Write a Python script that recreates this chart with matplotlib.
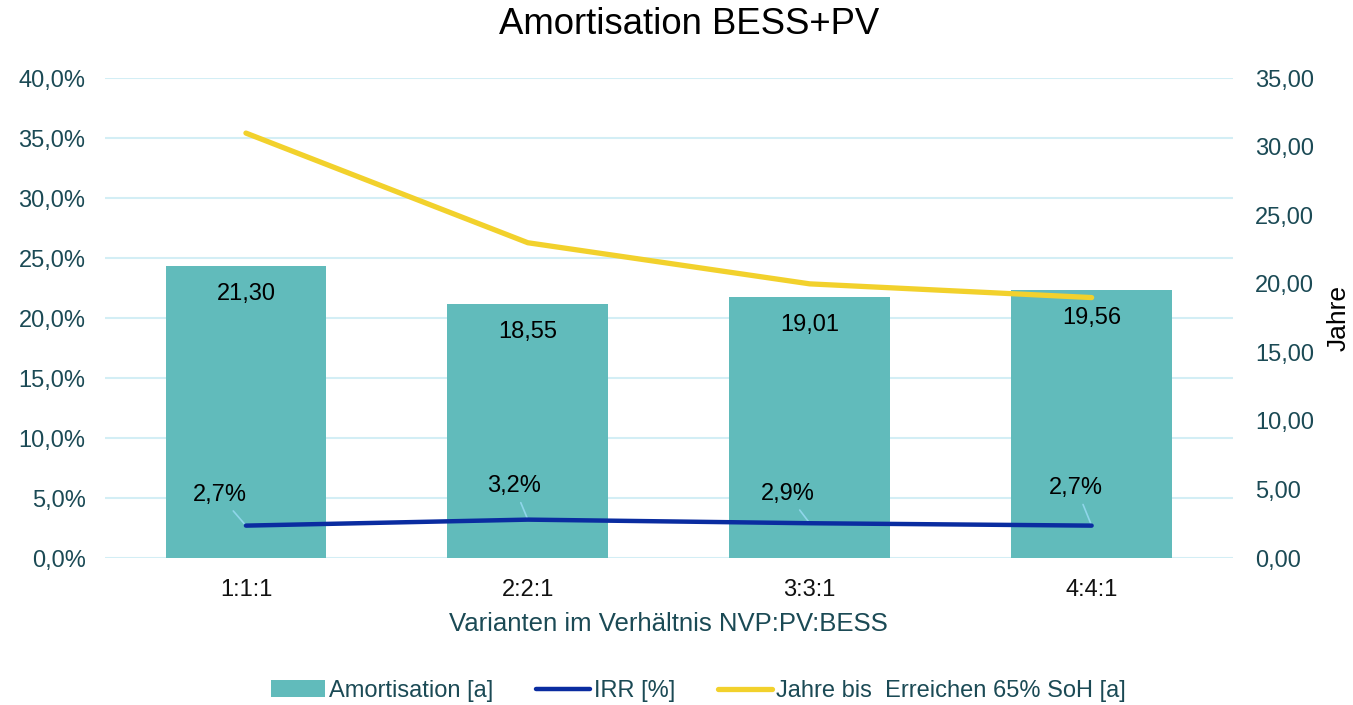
import matplotlib.pyplot as plt
from matplotlib.ticker import FuncFormatter, MultipleLocator

plt.rcParams['font.family'] = ['Liberation Sans', 'DejaVu Sans']

# Data
varianten = ["1:1:1", "2:2:1", "3:3:1", "4:4:1"]
amortisation = [21.30, 18.55, 19.01, 19.56]    # years
irr = [0.027, 0.032, 0.029, 0.027]             # fraction
jahre_soh = [31.0, 23.0, 20.0, 19.0]           # years until 65% SoH

teal = "#61BBBB"
blue = "#0A2CA0"
yellow = "#F2D12C"
grid_col = "#D3EEF5"
txt_col = "#1B4A55"

fig = plt.figure(figsize=(13.53, 7.05), dpi=100)
ax = fig.add_subplot(111)
fig.subplots_adjust(left=0.0776, right=0.911, top=0.889, bottom=0.2085)

x = list(range(len(varianten)))

# base axis: percent scale with grid
ax.set_ylim(0, 0.40)
ax.yaxis.set_major_locator(MultipleLocator(0.05))
ax.yaxis.set_major_formatter(FuncFormatter(lambda v, p: f"{v*100:.1f}%".replace(".", ",")))
ax.grid(axis="y", color=grid_col, linewidth=1.5)
ax.set_axisbelow(True)
ax.set_xlim(-0.5, len(varianten) - 0.5)
ax.set_xticks(x)
ax.set_xticklabels(varianten)
ax.tick_params(axis="x", length=0, pad=15, labelsize=17, labelcolor="#111111")
ax.tick_params(axis="y", length=0, pad=14, labelsize=17, labelcolor=txt_col)
ax.set_xlabel("Varianten im Verhältnis NVP:PV:BESS", fontsize=18.5, color=txt_col, labelpad=8)

# years axis: bars and SoH line
ax_y = ax.twinx()
ax_y.set_ylim(0, 35)
ax_y.yaxis.set_major_locator(MultipleLocator(5))
ax_y.yaxis.set_major_formatter(FuncFormatter(lambda v, p: f"{v:.2f}".replace(".", ",")))
ax_y.tick_params(axis="y", length=0, pad=16, labelsize=17, labelcolor=txt_col)
ax_y.set_ylabel("Jahre", fontsize=19, color="black", rotation=90, labelpad=9)
bars = ax_y.bar(x, amortisation, width=0.57, color=teal, label="Amortisation [a]", zorder=2)
for xi, val in zip(x, amortisation):
    ax_y.annotate(f"{val:.2f}".replace(".", ","), (xi, val), xytext=(0, -20),
                  textcoords="offset points", ha="center", va="center",
                  fontsize=17, color="black", zorder=3)
soh_line, = ax_y.plot(x, jahre_soh, color=yellow, linewidth=3.8,
                      solid_capstyle="round", label="Jahre bis  Erreichen 65% SoH [a]", zorder=4)

# IRR axis on top
ax_i = ax.twinx()
ax_i.set_ylim(0, 0.40)
ax_i.set_yticks([])
irr_line, = ax_i.plot(x, irr, color=blue, linewidth=3.2, solid_capstyle="round",
                      label="IRR [%]", zorder=4)
label_offsets = [(-19, 22), (-10, 24), (-16, 21), (-11, 27)]
for xi, val, off in zip(x, irr, label_offsets):
    ax_i.annotate(f"{val*100:.1f}%".replace(".", ","), (xi, val), xytext=off,
                  textcoords="offset points", ha="center", va="center",
                  fontsize=17, color="black",
                  arrowprops=dict(arrowstyle="-", color="#8FD6EA", lw=1.2,
                                  shrinkA=2, shrinkB=0))

for a in (ax, ax_y, ax_i):
    for s in a.spines.values():
        s.set_visible(False)

fig.suptitle("Amortisation BESS+PV", fontsize=26.3, x=0.509, y=0.99)

fig.legend([bars, irr_line, soh_line],
           ["Amortisation [a]", "IRR [%]", "Jahre bis  Erreichen 65% SoH [a]"],
           loc="center", bbox_to_anchor=(0.516, 0.02), ncol=3, frameon=False,
           fontsize=17, labelcolor=txt_col, handlelength=2.3, handletextpad=0.17,
           columnspacing=1.8)

fig.savefig("out.png", dpi=100)
